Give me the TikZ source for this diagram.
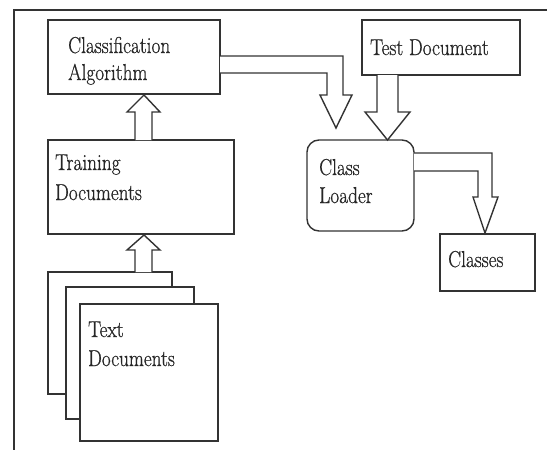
\documentclass[tikz,border=0pt]{standalone}
\usepackage{fontspec}
\newfontfamily\lblfont{Latin Modern Roman}[FakeBold=0.7]
\newcommand\lblsq[1]{\scalebox{0.84}[1]{#1}}
\begin{document}
\begin{tikzpicture}[x=1pt,y=-1pt,
  line/.style={draw=black!80,line width=1.4pt,line join=miter},
  box/.style={line,fill=white,outer sep=0pt,inner sep=0pt,anchor=north west},
  lbl/.style={anchor=base west,inner sep=0pt,text=black!85,font=\lblfont\fontsize{23}{27}\selectfont},
  harrow/.style={line,fill=white}]
\useasboundingbox (0,0) rectangle (547,450);
% frame
\draw[line] (547,10) -- (14,10) -- (14,450);
% boxes
\node[box,minimum width=172pt,minimum height=74pt] (ca) at (48,20) {};
\node[box,minimum width=186pt,minimum height=94pt] (trd) at (48,140) {};
\node[box,minimum width=124pt,minimum height=122pt] (tx1) at (48,272) {};
\node[box,minimum width=128pt,minimum height=132pt] (tx2) at (66,287) {};
\node[box,minimum width=138pt,minimum height=137pt] (tx3) at (80,304) {};
\node[box,minimum width=158pt,minimum height=55pt] (testd) at (362,20) {};
\node[box,rounded corners=12pt,minimum width=107pt,minimum height=91pt] (cl) at (307,140) {};
\node[box,minimum width=95pt,minimum height=57pt] (cls) at (440,234) {};
% labels
\node[lbl] (t1) at (68,53) {\lblsq{Classification}};
\node[lbl] (t2) at (68,80) {\lblsq{Algorithm}};
\node[lbl] (t3) at (55,170) {\lblsq{Training}};
\node[lbl] (t4) at (55,200) {\lblsq{Documents}};
\node[lbl] (t5) at (88,337) {\lblsq{Text}};
\node[lbl] (t6) at (88,366) {\lblsq{Documents}};
\node[lbl] (t7) at (370,55) {\lblsq{Test Document}};
\node[lbl] (t8) at (319,175) {\lblsq{Class}};
\node[lbl] (t9) at (319,203) {\lblsq{Loader}};
\node[lbl] (t10) at (448,267) {\lblsq{Classes}};
% hollow block arrows
\draw[harrow] (135,140) -- (135,112) -- (127,112) -- (144,95) -- (160,112) -- (152,112) -- (152,140);
\draw[harrow] (135,272) -- (135,250) -- (127,250) -- (144,235) -- (160,250) -- (152,250) -- (152,272);
\draw[harrow] (220,56) -- (343,56) -- (343,95) -- (352,95) -- (336,128) -- (320,95) -- (327,95) -- (327,73) -- (220,73);
\draw[harrow] (377,75) -- (377,112) -- (365,112) -- (387.5,140) -- (410,112) -- (398,112) -- (398,75);
\draw[harrow] (414,153) -- (492,153) -- (492,197) -- (498,197) -- (485,233) -- (473,197) -- (478,197) -- (478,171) -- (414,171);
\end{tikzpicture}
\end{document}
